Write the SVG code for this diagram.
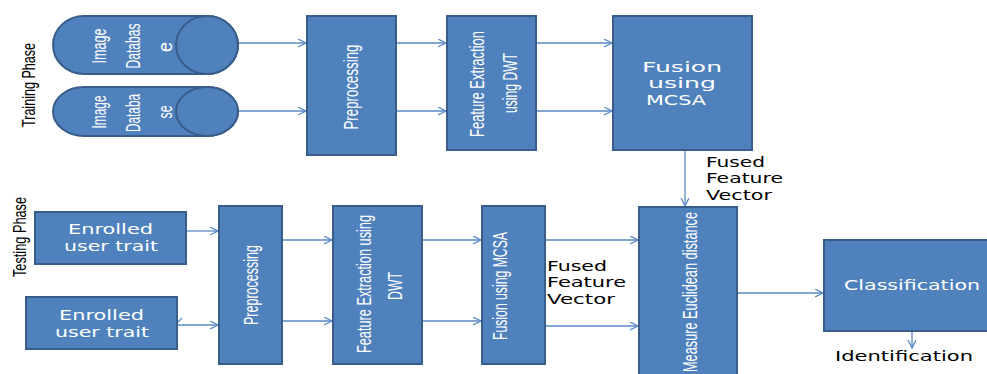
<svg xmlns="http://www.w3.org/2000/svg" width="987" height="374" viewBox="0 0 987 374">
  <style>
    .box { fill: #4F81BD; stroke: #385D8A; stroke-width: 2; }
    .wire { fill: none; stroke: #5A8AC6; stroke-width: 1.3; }
    .vt { font-family: "Liberation Sans", Arial, sans-serif; font-size: 20px; fill: #FFFFFF; text-anchor: middle; }
    .ht { font-family: "DejaVu Sans", Verdana, sans-serif; font-size: 14px; fill: #FFFFFF; text-anchor: middle; }
    .lbl { font-family: "DejaVu Sans", Verdana, sans-serif; font-size: 14px; fill: #000000; }
    .phase { font-family: "Liberation Sans", Arial, sans-serif; font-size: 19px; fill: #000000; text-anchor: middle; }
  </style>
  <defs>
    <marker id="arrow" markerWidth="10" markerHeight="10" refX="8" refY="4" orient="auto" markerUnits="userSpaceOnUse">
      <path d="M0,0 L8,4 L0,8" fill="none" stroke="#5A8AC6" stroke-width="1.3"/>
    </marker>
  </defs>

  <rect width="987" height="374" fill="#FFFFFF"/>

  <!-- phase labels -->
  <text class="phase" transform="translate(35,85) rotate(-90)" textLength="84" lengthAdjust="spacingAndGlyphs">Training Phase</text>
  <text class="phase" transform="translate(26,237) rotate(-90)" textLength="80" lengthAdjust="spacingAndGlyphs">Testing Phase</text>

  <!-- connectors -->
  <g id="connectors">
    <line class="wire" x1="238" y1="43" x2="306" y2="43" marker-end="url(#arrow)"/>
    <line class="wire" x1="238" y1="111" x2="306" y2="111" marker-end="url(#arrow)"/>
    <line class="wire" x1="396" y1="43" x2="446" y2="43" marker-end="url(#arrow)"/>
    <line class="wire" x1="396" y1="111" x2="446" y2="111" marker-end="url(#arrow)"/>
    <line class="wire" x1="536" y1="43" x2="612" y2="43" marker-end="url(#arrow)"/>
    <line class="wire" x1="536" y1="111" x2="612" y2="111" marker-end="url(#arrow)"/>
    <line class="wire" x1="685" y1="150" x2="685" y2="206" marker-end="url(#arrow)"/>
    <line class="wire" x1="186" y1="231" x2="218" y2="231" marker-end="url(#arrow)"/>
    <line class="wire" x1="177" y1="325" x2="218" y2="325" marker-end="url(#arrow)"/>
    <line class="wire" x1="176" y1="324" x2="182" y2="318"/>
    <line class="wire" x1="282" y1="240" x2="332" y2="240" marker-end="url(#arrow)"/>
    <line class="wire" x1="282" y1="321" x2="332" y2="321" marker-end="url(#arrow)"/>
    <line class="wire" x1="422" y1="240" x2="481" y2="240" marker-end="url(#arrow)"/>
    <line class="wire" x1="422" y1="321" x2="481" y2="321" marker-end="url(#arrow)"/>
    <line class="wire" x1="545" y1="240" x2="638" y2="240" marker-end="url(#arrow)"/>
    <line class="wire" x1="545" y1="326" x2="638" y2="326" marker-end="url(#arrow)"/>
    <line class="wire" x1="737" y1="293" x2="823" y2="293" marker-end="url(#arrow)"/>
    <line class="wire" x1="912" y1="331" x2="912" y2="348" marker-end="url(#arrow)"/>
  </g>

  <!-- training phase -->
  <g id="db1">
    <path class="box" d="M207,16 H84 A31,29 0 0 0 84,74 H207 A31,29 0 0 0 207,16 Z"/>
    <ellipse class="box" cx="207" cy="45" rx="31" ry="29"/>
    <text class="vt" font-size="19" transform="translate(106,46) rotate(-90)" textLength="35" lengthAdjust="spacingAndGlyphs">Image</text>
    <text class="vt" font-size="19" transform="translate(140,46) rotate(-90)" textLength="45" lengthAdjust="spacingAndGlyphs">Databas</text>
    <text class="vt" font-size="19" transform="translate(172,47) rotate(-90)" textLength="10" lengthAdjust="spacingAndGlyphs">e</text>
  </g>
  <g id="db2">
    <path class="box" d="M207,87 H84 A31,24.5 0 0 0 84,136 H207 A31,24.5 0 0 0 207,87 Z"/>
    <ellipse class="box" cx="207" cy="111.5" rx="31" ry="24.5"/>
    <text class="vt" font-size="19" transform="translate(106,112) rotate(-90)" textLength="33" lengthAdjust="spacingAndGlyphs">Image</text>
    <text class="vt" font-size="19" transform="translate(140,113) rotate(-90)" textLength="38" lengthAdjust="spacingAndGlyphs">Databa</text>
    <text class="vt" font-size="19" transform="translate(172,112) rotate(-90)" textLength="13" lengthAdjust="spacingAndGlyphs">se</text>
  </g>
  <g id="pre1">
    <rect class="box" x="307" y="16" width="89" height="139"/>
    <text class="vt" font-size="21" transform="translate(358,87) rotate(-90)" textLength="85" lengthAdjust="spacingAndGlyphs">Preprocessing</text>
  </g>
  <g id="fe1">
    <rect class="box" x="447" y="16" width="89" height="134"/>
    <text class="vt" font-size="21" transform="translate(484,84) rotate(-90)" textLength="106" lengthAdjust="spacingAndGlyphs">Feature Extraction</text>
    <text class="vt" font-size="21" transform="translate(517,83) rotate(-90)" textLength="60" lengthAdjust="spacingAndGlyphs">using DWT</text>
  </g>
  <g id="fusion1">
    <rect class="box" x="613" y="16" width="139" height="134"/>
    <text class="ht" x="682" y="72" textLength="80" lengthAdjust="spacingAndGlyphs">Fusion</text>
    <text class="ht" x="682" y="88" textLength="68" lengthAdjust="spacingAndGlyphs">using</text>
    <text class="ht" x="676" y="105" textLength="60" lengthAdjust="spacingAndGlyphs">MCSA</text>
  </g>
  <g id="fused-label1">
    <text class="lbl" x="706" y="167" textLength="59" lengthAdjust="spacingAndGlyphs">Fused</text>
    <text class="lbl" x="706" y="183" textLength="77" lengthAdjust="spacingAndGlyphs">Feature</text>
    <text class="lbl" x="706" y="200" textLength="66" lengthAdjust="spacingAndGlyphs">Vector</text>
  </g>

  <!-- testing phase -->
  <g id="user1">
    <rect class="box" x="35" y="212" width="151" height="52"/>
    <text class="ht" x="110.5" y="234" textLength="85" lengthAdjust="spacingAndGlyphs">Enrolled</text>
    <text class="ht" x="111" y="251" textLength="94" lengthAdjust="spacingAndGlyphs">user trait</text>
  </g>
  <g id="user2">
    <rect class="box" x="26" y="297" width="151" height="52"/>
    <text class="ht" x="101.5" y="320" textLength="85" lengthAdjust="spacingAndGlyphs">Enrolled</text>
    <text class="ht" x="102" y="337" textLength="94" lengthAdjust="spacingAndGlyphs">user trait</text>
  </g>
  <g id="pre2">
    <rect class="box" x="219" y="206" width="63" height="158"/>
    <text class="vt" font-size="21" transform="translate(258,285) rotate(-90)" textLength="80" lengthAdjust="spacingAndGlyphs">Preprocessing</text>
  </g>
  <g id="fe2">
    <rect class="box" x="333" y="206" width="89" height="158"/>
    <text class="vt" font-size="21" transform="translate(371,284) rotate(-90)" textLength="138" lengthAdjust="spacingAndGlyphs">Feature Extraction using</text>
    <text class="vt" font-size="21" transform="translate(402,286) rotate(-90)" textLength="28" lengthAdjust="spacingAndGlyphs">DWT</text>
  </g>
  <g id="fusion2">
    <rect class="box" x="482" y="206" width="63" height="158"/>
    <text class="vt" font-size="21" transform="translate(507,286) rotate(-90)" textLength="108" lengthAdjust="spacingAndGlyphs">Fusion using MCSA</text>
  </g>
  <g id="fused-label2">
    <text class="lbl" x="547" y="271" textLength="60" lengthAdjust="spacingAndGlyphs">Fused</text>
    <text class="lbl" x="547" y="287" textLength="79" lengthAdjust="spacingAndGlyphs">Feature</text>
    <text class="lbl" x="547" y="304" textLength="68" lengthAdjust="spacingAndGlyphs">Vector</text>
  </g>
  <g id="measure">
    <rect class="box" x="639" y="207" width="98" height="180"/>
    <text class="vt" font-size="20" transform="translate(697,292) rotate(-90)" textLength="160" lengthAdjust="spacingAndGlyphs">Measure Euclidean distance</text>
  </g>
  <g id="classification">
    <rect class="box" x="824" y="240" width="170" height="91"/>
    <text class="ht" x="912" y="290" textLength="136" lengthAdjust="spacingAndGlyphs">Classification</text>
  </g>
  <g id="identification">
    <text class="lbl" x="835" y="361" textLength="138" lengthAdjust="spacingAndGlyphs">Identification</text>
  </g>
</svg>
